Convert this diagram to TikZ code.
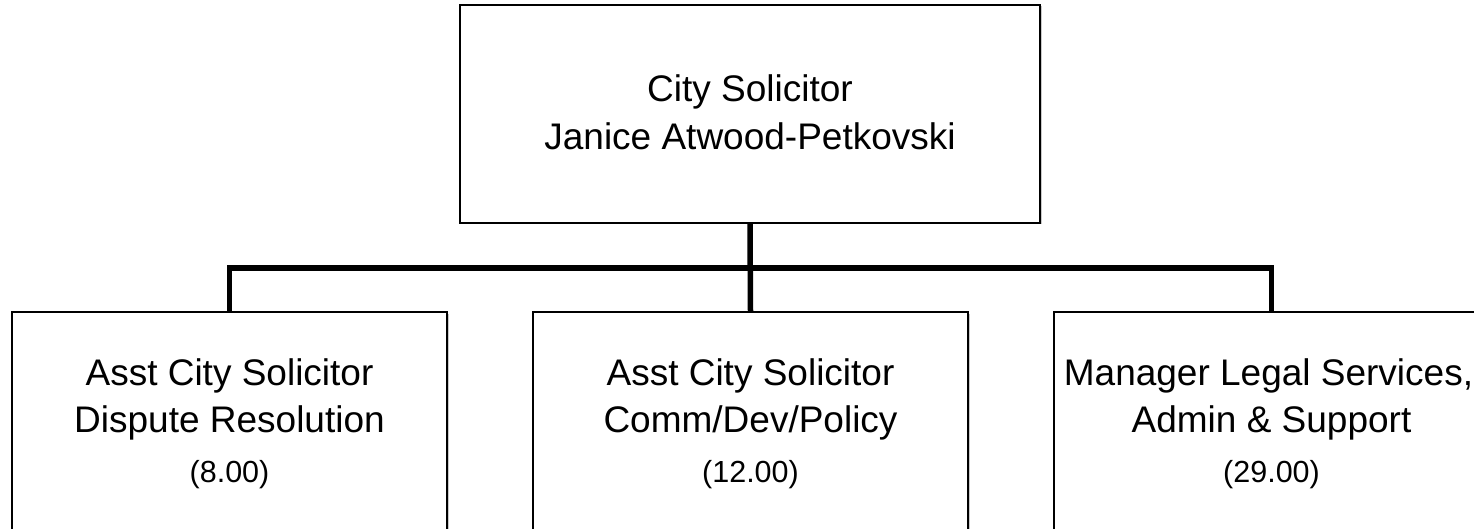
\documentclass[tikz,border=0pt]{standalone}
\usepackage{fontspec}
\setmainfont{Liberation Sans}
\usetikzlibrary{shadows}
\begin{document}
\begin{tikzpicture}[x=1pt,y=-1pt,
  box/.style={draw=black, line width=2pt, fill=white, inner sep=0pt, outer sep=0pt,
    minimum height=218pt,
    drop shadow={shadow xshift=1.5pt, shadow yshift=-1.5pt, fill=black!35, opacity=0.6}},
  topbox/.style={box, minimum width=580pt},
  subbox/.style={box, minimum width=435pt},
  big/.style={font=\fontsize{37}{44}\selectfont, anchor=base, inner sep=0pt},
  small/.style={font=\fontsize{30.5}{36}\selectfont, anchor=base, inner sep=0pt},
  conn/.style={draw=black, line width=5.5pt, line join=miter}]
\useasboundingbox (0,0) rectangle (1474,529);
\clip (0,0) rectangle (1474,529);
\fill[white] (0,0) rectangle (1474,529);
% boxes
\node[topbox] (top) at (750,114) {};
\node[subbox] (dr) at (229.5,421) {};
\node[subbox] (cd) at (750.5,421) {};
\node[subbox] (ml) at (1271.5,421) {};
% connectors
\draw[conn] (top.south) -- (cd.north);
\draw[conn] (dr.north) -- ++(0,-44) -| (ml.north);
% texts
\node[big] (t1) at (750,102) {City Solicitor};
\node[big] (t2) at (750,150) {Janice Atwood-Petkovski};
\node[big] (d1) at (229.5,385) {Asst City Solicitor};
\node[big] (d2) at (229.5,432) {Dispute Resolution};
\node[small] (d3) at (229.5,482) {(8.00)};
\node[big] (c1) at (750.5,385) {Asst City Solicitor};
\node[big] (c2) at (750.5,432) {Comm/Dev/Policy};
\node[small] (c3) at (750.5,482) {(12.00)};
\node[big] (m1) at (1268.5,385) {Manager Legal Services,};
\node[big] (m2) at (1271.5,432) {Admin \& Support};
\node[small] (m3) at (1271.5,482) {(29.00)};
\end{tikzpicture}
\end{document}
